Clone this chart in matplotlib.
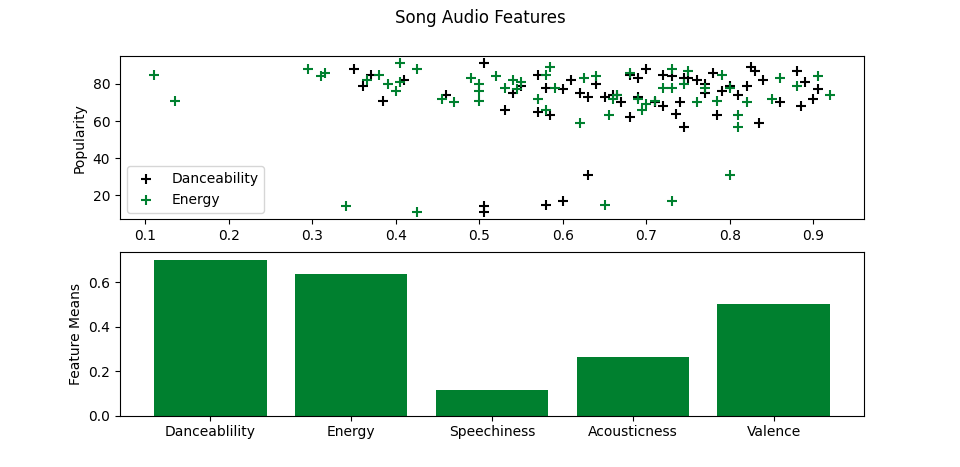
import matplotlib.pyplot as plt

dance_x = [0.35, 0.36, 0.37, 0.385, 0.41, 0.505, 0.505, 0.505, 0.53, 0.57, 0.57, 0.58, 0.585, 0.6, 0.63,
           0.46, 0.6, 0.61, 0.62, 0.63, 0.64, 0.65, 0.66, 0.67, 0.68, 0.68, 0.69, 0.70, 0.71, 0.72, 0.72,
           0.73, 0.735, 0.74, 0.745, 0.75, 0.76, 0.77, 0.78, 0.785, 0.79, 0.80, 0.81, 0.82, 0.825, 0.83,
           0.835, 0.84, 0.86, 0.88, 0.885, 0.89, 0.90, 0.905, 0.55, 0.54, 0.58, 0.665, 0.69, 0.71, 0.745, 0.77]
dance_pop = [88, 79, 85, 71, 82, 91, 14, 11, 66, 85, 65, 15, 63, 17, 31,
             74, 77, 82, 75, 73, 80, 73, 74, 70, 85, 62, 83, 88, 70, 85, 68,
             84, 64, 70, 57, 83, 82, 80, 86, 63, 76, 79, 74, 79, 89, 87,
             59, 82, 70, 87, 68, 81, 72, 77, 79, 75, 78, 74, 73, 70, 83, 75]
energy_x = [0.11, 0.135, 0.295, 0.31, 0.315, 0.34, 0.365, 0.38, 0.39, 0.40, 0.405, 0.405, 0.425, 0.425,
            0.455, 0.47, 0.49, 0.5, 0.5, 0.5, 0.52, 0.53, 0.54, 0.545, 0.55, 0.57, 0.58, 0.585, 0.58, 0.59,
            0.62, 0.625, 0.64, 0.65, 0.655, 0.66, 0.665, 0.68, 0.69, 0.695, 0.70, 0.71, 0.72, 0.73, 0.73,
            0.73, 0.75, 0.76, 0.77, 0.785, 0.79, 0.80, 0.80, 0.81, 0.81, 0.82, 0.85, 0.86, 0.88, 0.905, 0.92, 0.745]
energy_pop = [85, 71, 88, 84, 86, 14, 82, 85, 80, 76, 91, 81, 88, 11,
              72, 70, 83, 80, 71, 76, 84, 78, 82, 77, 81, 72, 85, 89, 66, 78,
              59, 83, 84, 15, 63, 72, 74, 86, 72, 66, 69, 71, 78, 17, 88,
              78, 87, 70, 78, 71, 85, 31, 78, 63, 57, 70, 72, 83, 79, 84, 74, 80]

features = ['Danceablility', 'Energy', 'Speechiness', 'Acousticness', 'Valence']
means = [0.70, 0.635, 0.115, 0.265, 0.50]

green = '#00802f'
fig, (ax1, ax2) = plt.subplots(2, 1, figsize=(9.6, 4.67), dpi=100)
fig.suptitle('Song Audio Features')
ax1.scatter(dance_x, dance_pop, marker='+', s=60, linewidths=1.5, color='black', label='Danceability')
ax1.scatter(energy_x, energy_pop, marker='+', s=60, linewidths=1.5, color=green, label='Energy')
ax1.set_ylabel('Popularity')
ax1.legend(loc='lower left')

ax2.bar(features, means, color=green)
ax2.set_ylabel('Feature Means')

fig.savefig('out.png')
